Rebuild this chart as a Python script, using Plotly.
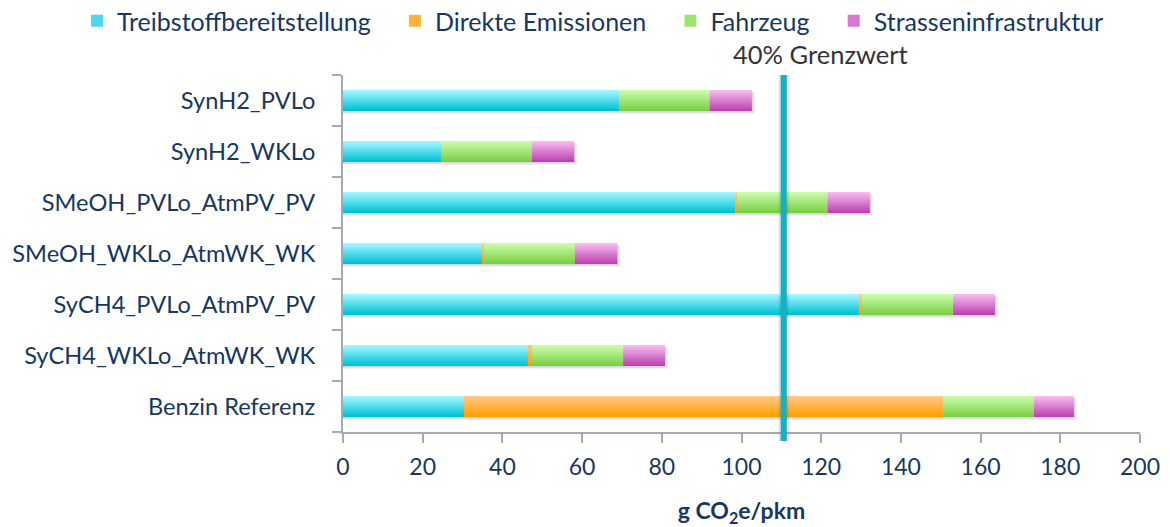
import numpy as np
import plotly.graph_objects as go

# Pathways (bottom to top on the chart)
categories = [
    "Benzin Referenz",
    "SyCH4_WKLo_AtmWK_WK",
    "SyCH4_PVLo_AtmPV_PV",
    "SMeOH_WKLo_AtmWK_WK",
    "SMeOH_PVLo_AtmPV_PV",
    "SynH2_WKLo",
    "SynH2_PVLo",
]

# Emission contributions in g CO2e/pkm
treibstoff = [30.4, 46.4, 129.6, 34.9, 98.4, 24.6, 69.3]
direkt = [120.2, 1.0, 0.6, 0.5, 0.5, 0.0, 0.0]
fahrzeug = [22.8, 22.9, 22.9, 22.8, 22.7, 22.8, 22.7]
strasse = [10.0, 10.5, 10.5, 10.6, 10.6, 10.6, 10.6]

series_names = ["Treibstoffbereitstellung", "Direkte Emissionen",
                "Fahrzeug", "Strasseninfrastruktur"]

grenzwert = 110.6
grenzwert_label = "40% Grenzwert"

# (top colour, bottom colour) of each segment's vertical gradient
gradients = [("#A3F5FF", "#00C2D6"), ("#FFC886", "#FF9E00"),
             ("#CAFBAA", "#7BD144"), ("#F6BAEE", "#BD43B0")]

TEXT = "#17375E"
FONT = "Lato"
BAR_W = 0.41
N_LAYERS = 12
PAD = "\u00a0" * 3  # extra room after each legend entry

W, H = 1170, 527
M_L, M_R = 0, 30
AXIS_LEFT = 343  # pixel position of the value axis origin

def hex_rgb(h):
    h = h.lstrip("#")
    return np.array([int(h[i:i + 2], 16) for i in (0, 2, 4)], dtype=float)


def mix(c_top, c_bot, t):
    c = hex_rgb(c_top) * (1 - t) + hex_rgb(c_bot) * t
    return "rgb({:.0f},{:.0f},{:.0f})".format(*c)


values = np.array([treibstoff, direkt, fahrzeug, strasse], dtype=float)
bases = np.vstack([np.zeros(len(categories)), np.cumsum(values, axis=0)[:-1]])
totals = values.sum(axis=0)

fig = go.Figure()

# soft drop shadow under each full bar
for k, (off, alpha) in enumerate([(-0.06, 0.05), (-0.045, 0.07), (-0.03, 0.09)]):
    fig.add_trace(go.Bar(
        y=categories, x=totals + 0.9 - 0.3 * k, base=0, orientation="h",
        width=BAR_W, offset=-BAR_W / 2 + off,
        marker=dict(color=f"rgba(60,60,60,{alpha})", line=dict(width=0)),
        showlegend=False, hoverinfo="skip",
    ))

# stacked segments, each painted as thin horizontal bands for a vertical gradient
lw = BAR_W / N_LAYERS
for si, name in enumerate(series_names):
    c_top, c_bot = gradients[si]
    label = name + (PAD if si < len(series_names) - 1 else "")
    for li in range(N_LAYERS):
        t = li / (N_LAYERS - 1)
        fig.add_trace(go.Bar(
            y=categories, x=values[si], base=bases[si], orientation="h",
            width=lw * 1.02, offset=BAR_W / 2 - (li + 1) * lw,
            marker=dict(color=mix(c_top, c_bot, t), line=dict(width=0)),
            name=label, legendgroup=name,
            showlegend=(li == N_LAYERS // 2),
            hovertemplate=f"{name}: %{{x:.1f}}<extra></extra>",
        ))

# limit line
fig.add_shape(type="line", xref="x", yref="paper", x0=grenzwert, x1=grenzwert,
              y0=-0.025, y1=1.0, line=dict(color="rgba(80,80,80,0.18)", width=10),
              layer="above")
fig.add_shape(type="line", xref="x", yref="paper", x0=grenzwert, x1=grenzwert,
              y0=-0.025, y1=1.0, line=dict(color="#12B2C3", width=6),
              layer="above")
fig.add_annotation(x=grenzwert, xref="x", y=1.0, yref="paper", yanchor="bottom",
                   xanchor="center", xshift=37, yshift=4, showarrow=False,
                   text=grenzwert_label, font=dict(family=FONT, size=25.5, color="#333333"))

plot_w = W - M_L - M_R
fig.update_layout(
    width=W, height=H,
    barmode="overlay",
    paper_bgcolor="white", plot_bgcolor="white",
    margin=dict(l=M_L, r=M_R, t=75, b=95, autoexpand=False),
    font=dict(family=FONT, color=TEXT, size=22),
    legend=dict(
        orientation="h", xref="paper", yref="container",
        x=(77 - M_L) / plot_w, xanchor="left", y=1.0 - 21 / H, yanchor="middle",
        font=dict(family=FONT, size=25, color=TEXT),
        itemclick=False, itemdoubleclick=False, traceorder="normal",
    ),
    xaxis=dict(
        domain=[(AXIS_LEFT - M_L) / plot_w, 1],
        range=[0, 200], dtick=20, showgrid=False, zeroline=False,
        showline=True, linecolor="#A6A9B6", linewidth=2,
        ticks="outside", ticklen=9, tickwidth=2, tickcolor="#A6A9B6",
        tickfont=dict(family=FONT, size=23, color=TEXT),
        ticklabelstandoff=4,
        title=dict(text="<b>g CO<sub>2</sub>e/pkm</b>",
                   font=dict(family=FONT, size=23, color=TEXT), standoff=25),
    ),
    yaxis=dict(
        type="category", categoryorder="array", categoryarray=categories,
        range=[-0.5, len(categories) - 0.5],
        showgrid=False, zeroline=False, automargin=False,
        showline=True, linecolor="#A6A9B6", linewidth=2,
        ticks="outside", ticklen=9, tickwidth=2, tickcolor="#A6A9B6",
        tickson="boundaries",
        tickfont=dict(family=FONT, size=23.6, color=TEXT),
        ticklabelstandoff=21,
    ),
)

fig.write_html("out.html")
